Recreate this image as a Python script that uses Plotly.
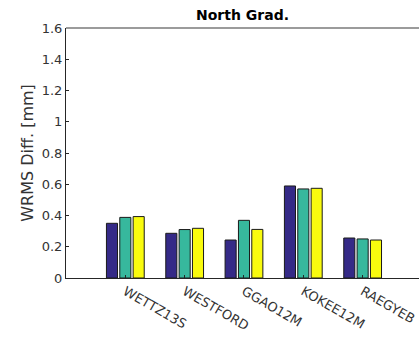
import plotly.graph_objects as go

# Stations on the x axis (placed at integer positions 1..5)
stations = ["WETTZ13S", "WESTFORD", "GGAO12M", "KOKEE12M", "RAEGYEB"]
positions = [1, 2, 3, 4, 5]

# WRMS differences of the north gradient per solution [mm]
series_a = [0.350, 0.286, 0.243, 0.589, 0.256]
series_b = [0.388, 0.310, 0.369, 0.570, 0.250]
series_c = [0.393, 0.318, 0.311, 0.574, 0.243]

y_ticks = [0, 0.2, 0.4, 0.6, 0.8, 1.0, 1.2, 1.4, 1.6]
y_tick_text = ["0", "0.2", "0.4", "0.6", "0.8", "1", "1.2", "1.4", "1.6"]

colors = ["#352A87", "#37B89D", "#F9FB0E"]
axis_color = "#262626"
text_color = "#333333"
font = "DejaVu Sans"

fig = go.Figure()
for vals, col in zip([series_a, series_b, series_c], colors):
    fig.add_trace(go.Bar(
        x=positions, y=vals,
        marker=dict(color=col, line=dict(color="#1a1a1a", width=1)),
        showlegend=False,
    ))

fig.update_layout(
    width=419, height=339,
    margin=dict(l=66, r=0, t=28, b=61, autoexpand=False),
    paper_bgcolor="white", plot_bgcolor="white",
    barmode="group", bargap=0.325, bargroupgap=0.17,
    font=dict(family=font, size=13, color=text_color),
    title=dict(text="<b>North Grad.</b>", xref="paper", x=0.5, xanchor="center",
               y=1 - 15 / 339, yanchor="middle",
               font=dict(family=font, size=14, color="black")),
    # top tick marks at the station positions
    xaxis2=dict(
        overlaying="x", side="top", range=[0, 5.95],
        tickmode="array", tickvals=positions, showticklabels=False,
        ticks="inside", ticklen=3, tickcolor=axis_color,
        showline=False, showgrid=False, zeroline=False, automargin=False,
    ),
    # right-hand tick marks only (box edge sits at the page border)
    yaxis2=dict(
        overlaying="y", side="right", range=[0, 1.6],
        tickmode="array", tickvals=y_ticks, showticklabels=False,
        ticks="inside", ticklen=2, tickcolor="#555555",
        showline=False, showgrid=False, zeroline=False, automargin=False,
    ),
    # top edge of the axes box, across the full plot width
    shapes=[dict(type="line", xref="paper", yref="paper", x0=0, x1=1, y0=1, y1=1,
                 line=dict(color="#7a7a7a", width=1.5))],
)

fig.update_layout(xaxis=dict(
    range=[0, 5.95], automargin=False, ticklabeloverflow="allow",
    tickmode="array", tickvals=positions, ticktext=stations,
    tickangle=30,
    ticks="inside", ticklen=3, tickcolor=axis_color,
    showline=True, linecolor=axis_color, linewidth=1, mirror=False,
    showgrid=False, zeroline=False,
    tickfont=dict(family=font, size=13, color=text_color),
))
fig.update_layout(yaxis=dict(
    range=[0, 1.6], automargin=False,
    tickmode="array", tickvals=y_ticks, ticktext=y_tick_text,
    ticks="inside", ticklen=3, tickcolor=axis_color,
    showline=True, linecolor=axis_color, linewidth=1, mirror=False,
    showgrid=False, zeroline=False,
    tickfont=dict(family=font, size=13, color=text_color),
    title=dict(text="WRMS Diff. [mm]", standoff=4,
               font=dict(family=font, size=16, color=text_color)),
))

# keep the page exactly the size of the figure
page_css = (
    "document.documentElement.style.overflow='hidden';"
    "document.body.style.margin='0';"
    "document.body.style.overflow='hidden';"
)
fig.write_html("out.html", post_script=page_css)
